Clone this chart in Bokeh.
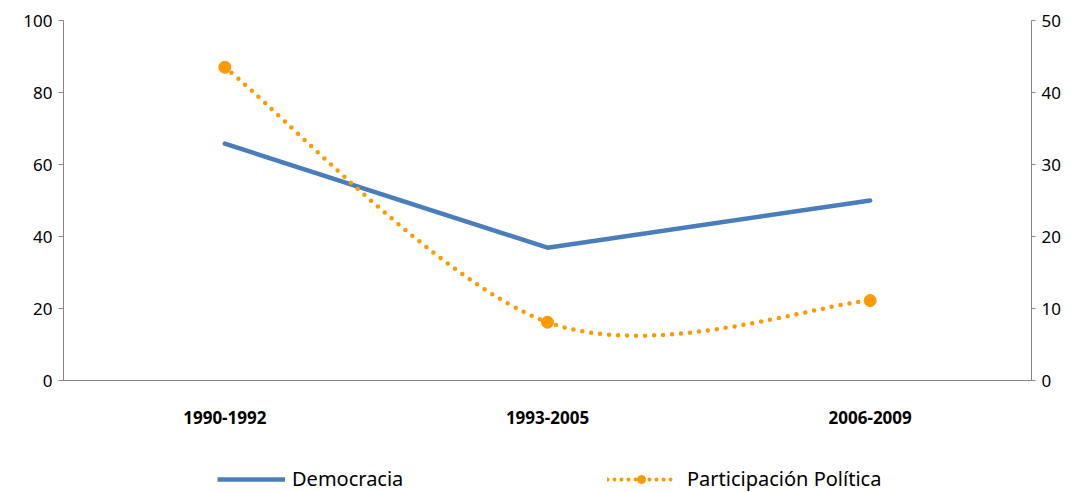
from bokeh.plotting import figure
from bokeh.layouts import column
from bokeh.models import (Range1d, LinearAxis, FixedTicker, Legend, LegendItem,
                          ColumnDataSource)
from bokeh.embed import file_html
from bokeh.resources import INLINE

categories = ["1990-1992", "1993-2005", "2006-2009"]
democracia = [65.8, 36.9, 50.0]
participacion = [43.5, 8.1, 11.1]
left_ticks = [0, 20, 40, 60, 80, 100]
right_ticks = [0, 10, 20, 30, 40, 50]
series_names = ["Democracia", "Participación Política"]

BLUE = "#4A7EBB"
ORANGE = "#FF9900"
GREY = "#868686"
FONT = "Noto Sans"

xs = [i + 0.5 for i in range(len(categories))]

p = figure(width=1079, height=445, output_backend="svg", toolbar_location=None,
           x_range=Range1d(0, len(categories)), y_range=Range1d(0, 100),
           min_border_left=63, min_border_right=48, min_border_top=20,
           min_border_bottom=65)
p.extra_y_ranges = {"right": Range1d(0, 50)}
p.outline_line_color = None
p.grid.visible = False
p.background_fill_color = "white"

# axes styling
p.xaxis.ticker = FixedTicker(ticks=xs)
p.xaxis.major_label_overrides = {x: c for x, c in zip(xs, categories)}
p.xaxis.major_tick_line_color = None
p.xaxis.minor_tick_line_color = None
p.xaxis.axis_line_color = GREY
p.xaxis.major_label_text_font = FONT
p.xaxis.major_label_text_font_style = "bold"
p.xaxis.major_label_text_font_size = "17px"
p.xaxis.major_label_standoff = 24
p.xaxis.major_label_text_color = "black"

p.yaxis.ticker = FixedTicker(ticks=left_ticks)
p.yaxis.minor_tick_line_color = None
p.yaxis.major_tick_out = 5
p.yaxis.major_tick_in = 0
p.yaxis.axis_line_color = GREY
p.yaxis.major_tick_line_color = GREY
p.yaxis.major_label_text_font = FONT
p.yaxis.major_label_text_font_size = "17px"
p.yaxis.major_label_text_color = "black"
p.yaxis.major_label_standoff = 6

ra = LinearAxis(y_range_name="right", ticker=FixedTicker(ticks=right_ticks))
ra.minor_tick_line_color = None
ra.major_tick_out = 4
ra.major_tick_in = 0
ra.axis_line_color = GREY
ra.major_tick_line_color = GREY
ra.major_label_text_font = FONT
ra.major_label_text_font_size = "17px"
ra.major_label_text_color = "black"
ra.major_label_standoff = 6
p.add_layout(ra, "right")

# Democracia line
p.line(xs, democracia, line_color=BLUE, line_width=4.5, line_join="round",
       line_cap="round")

# smoothed Participación curve (Catmull-Rom style bezier between data points)
pts = list(zip(xs, participacion))
n = len(pts)
x0s, y0s, x1s, y1s, cx0, cy0, cx1, cy1 = [], [], [], [], [], [], [], []
for i in range(n - 1):
    pm = pts[max(i - 1, 0)]
    pa = pts[i]
    pb = pts[i + 1]
    pn = pts[min(i + 2, n - 1)]
    x0s.append(pa[0]); y0s.append(pa[1])
    x1s.append(pb[0]); y1s.append(pb[1])
    cx0.append(pa[0] + (pb[0] - pm[0]) / 6); cy0.append(pa[1] + (pb[1] - pm[1]) / 6)
    cx1.append(pb[0] - (pn[0] - pa[0]) / 6); cy1.append(pb[1] - (pn[1] - pa[1]) / 6)
bsrc = ColumnDataSource(dict(x0=x0s, y0=y0s, x1=x1s, y1=y1s,
                             cx0=cx0, cy0=cy0, cx1=cx1, cy1=cy1))
p.bezier(x0="x0", y0="y0", x1="x1", y1="y1", cx0="cx0", cy0="cy0", cx1="cx1",
         cy1="cy1", source=bsrc, y_range_name="right", line_color=ORANGE,
         line_width=4.5, line_dash="0 9", line_cap="round")
p.scatter(xs, participacion, y_range_name="right", marker="circle", size=12,
          fill_color=ORANGE, line_color=ORANGE)

# legend strip as a separate small figure (its data lies outside its view)
lf = figure(width=1079, height=47, output_backend="svg", toolbar_location=None,
            x_range=Range1d(-20, -10), y_range=Range1d(-20, -10),
            x_axis_location=None, y_axis_location=None,
            min_border_left=0, min_border_right=0, min_border_top=0,
            min_border_bottom=0)
lf.grid.visible = False
lf.outline_line_color = None

r_dem = lf.line(xs, democracia, line_color=BLUE, line_width=4.5)
r_dot = lf.line(xs, participacion, line_color=ORANGE, line_width=4,
                line_dash="0 7", line_cap="round")
r_mk = lf.scatter(xs, participacion, marker="circle", size=11, fill_color=ORANGE,
                  line_color=ORANGE)

def add_legend(label, renderers, loc, standoff):
    lg = Legend(items=[LegendItem(label=label, renderers=renderers)],
                location=loc, orientation="horizontal",
                glyph_width=68, glyph_height=20, label_height=20,
                label_standoff=standoff, padding=0, margin=0, spacing=0,
                border_line_color=None, background_fill_alpha=0,
                label_text_font=FONT, label_text_font_size="20px",
                label_text_color="black")
    lf.add_layout(lg, "center")

add_legend(series_names[0], [r_dem], (154, 0), 7)
add_legend(series_names[1], [r_dot, r_mk], (544, 0), 12)

open("out.html", "w").write(file_html(column(p, lf, spacing=0), INLINE))
